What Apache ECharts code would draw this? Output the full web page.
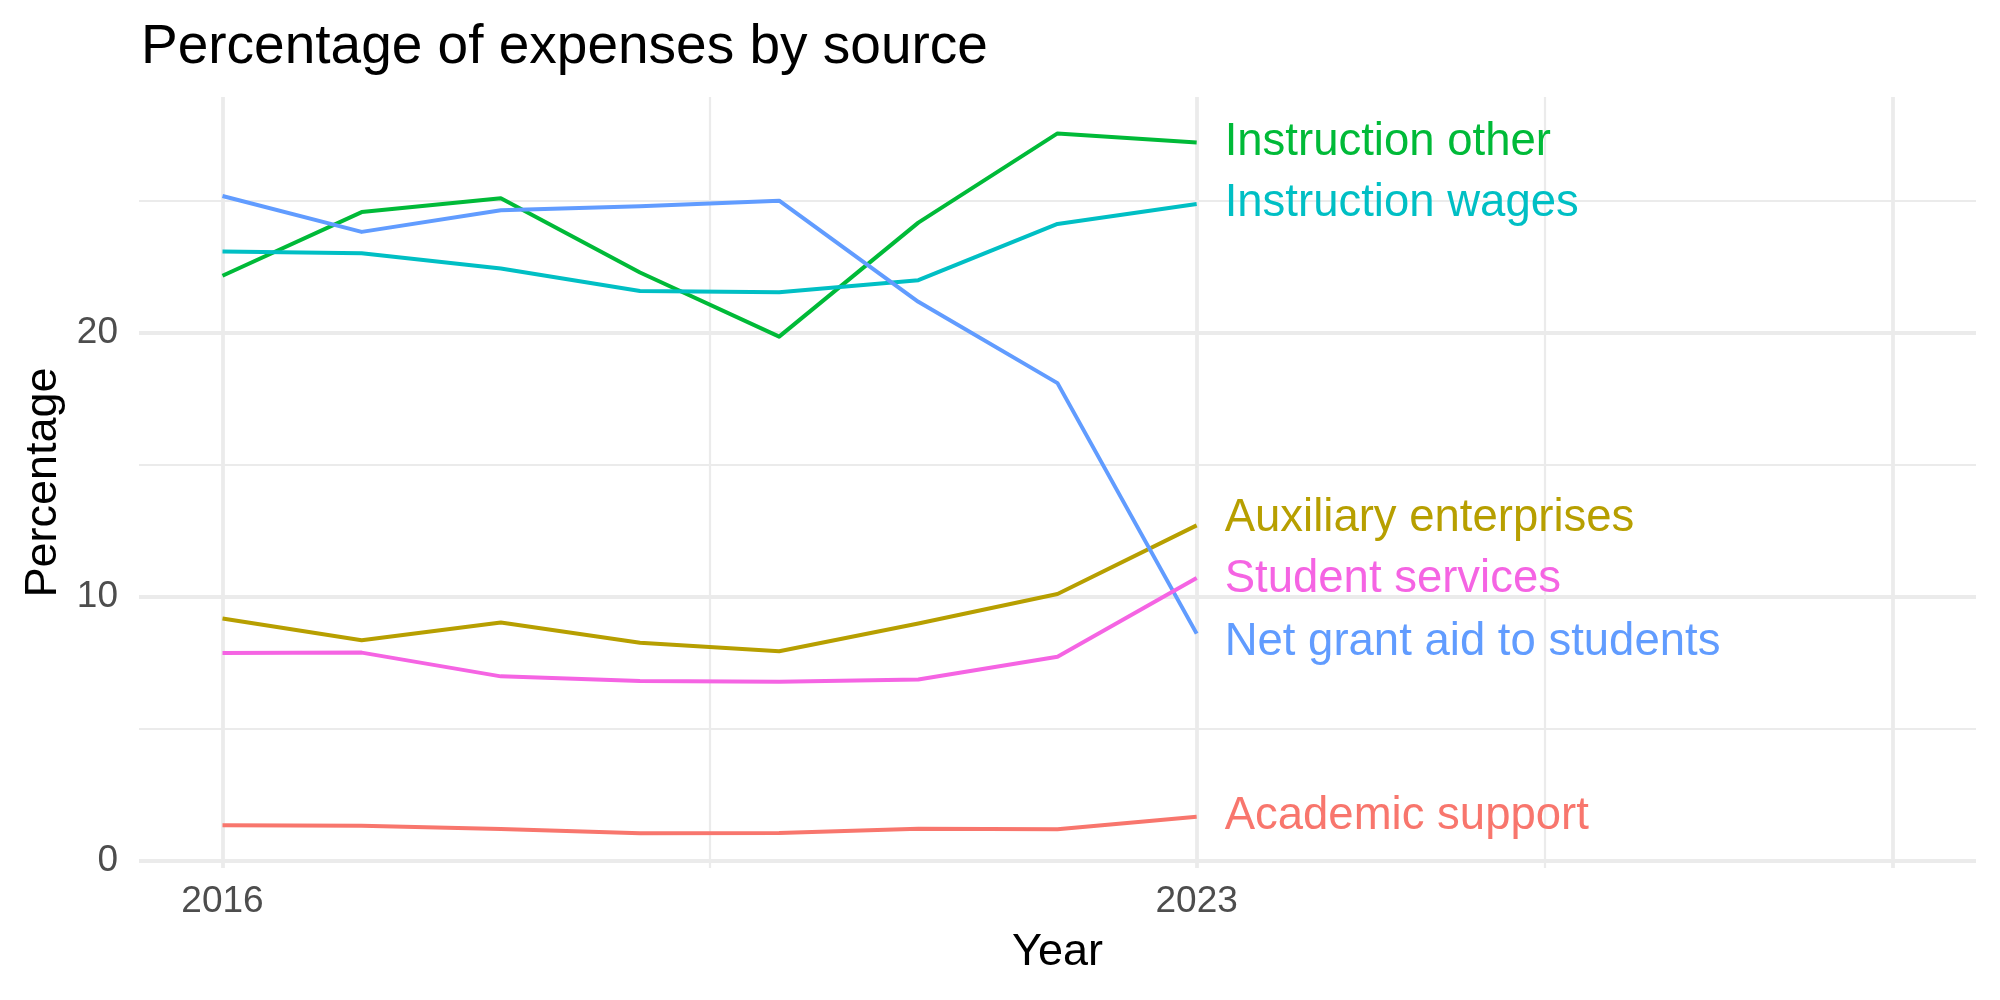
<!DOCTYPE html>
<html>
<head>
<meta charset="utf-8">
<script src="https://cdn.jsdelivr.net/npm/echarts@6/dist/echarts.min.js"></script>
<style>
  html, body { margin: 0; padding: 0; background: #fff; }
  #chart { width: 2000px; height: 1000px; }
</style>
</head>
<body>
<div id="chart"></div>
<script>
// data
const years = [2016, 2017, 2018, 2019, 2020, 2021, 2022, 2023];
const academicSupport = [1.35, 1.33, 1.21, 1.05, 1.06, 1.22, 1.20, 1.67];
const auxiliaryEnterprises = [9.18, 8.36, 9.03, 8.26, 7.94, 8.99, 10.11, 12.71];
const instructionOther = [22.17, 24.58, 25.10, 22.29, 19.86, 24.18, 27.56, 27.22];
const instructionWages = [23.09, 23.02, 22.44, 21.59, 21.54, 22.00, 24.13, 24.89];
const netGrantAid = [25.19, 23.83, 24.65, 24.80, 25.01, 21.18, 18.10, 8.61];
const studentServices = [7.88, 7.89, 6.99, 6.81, 6.79, 6.87, 7.73, 10.72];

const xTickLabels = [2016, 2023];
const yTickLabels = [0, 10, 20];
const xMajorGrid = [2016, 2023, 2028];
const xMinorGrid = [2019.5, 2025.5];
const yMajorGrid = [0, 10, 20];
const yMinorGrid = [5, 15, 25];

const font = 'Liberation Sans, Arial, Helvetica, sans-serif';
const gridColor = '#EBEBEB';

let myChart = echarts.init(document.getElementById('chart'));

function pairs(vals) {
  return years.map((y, i) => [y, vals[i]]);
}

function lineSeries(name, vals, color, dy) {
  return {
    name: name,
    type: 'line',
    z: 3,
    data: pairs(vals),
    symbol: 'none',
    color: color,
    lineStyle: { width: 4, color: color, join: 'round' },
    endLabel: {
      show: true,
      formatter: '{a}',
      color: color,
      fontSize: 45.5,
      fontFamily: font,
      distance: 28,
      offset: [0, dy || 0]
    }
  };
}

// gridlines drawn as markLines so they can sit at uneven positions
function gridSeries(xs, ys, width) {
  let items = []
  xs.forEach(v => items.push({ xAxis: v }))
  ys.forEach(v => items.push({ yAxis: v }))
  return {
    type: 'line',
    z: 1,
    data: [],
    silent: true,
    markLine: {
      z: 1,
      silent: true,
      animation: false,
      symbol: ['none', 'none'],
      label: { show: false },
      lineStyle: { color: gridColor, type: 'solid', width: width },
      emphasis: { disabled: true },
      data: items
    }
  };
}

let option = {
  animation: false,
  backgroundColor: '#fff',
  title: {
    text: 'Percentage of expenses by source',
    left: 136,
    top: 15,
    textStyle: { fontSize: 55, fontWeight: 'normal', color: '#000', fontFamily: font }
  },
  grid: { left: 139, right: 24, top: 97, bottom: 132 },
  xAxis: {
    type: 'value',
    min: 2015.4,
    max: 2028.6,
    name: 'Year',
    nameLocation: 'middle',
    nameGap: 62,
    nameTextStyle: { fontSize: 45, color: '#000', fontFamily: font },
    axisLine: { show: false },
    axisTick: { show: false },
    splitLine: { show: false },
    axisLabel: {
      customValues: xTickLabels,
      formatter: v => String(v),
      fontSize: 37,
      color: '#4D4D4D',
      fontFamily: font,
      margin: 15
    }
  },
  yAxis: {
    type: 'value',
    min: -0.27,
    max: 28.94,
    name: 'Percentage',
    nameLocation: 'middle',
    nameGap: 72,
    nameRotate: 90,
    nameTextStyle: { fontSize: 45, color: '#000', fontFamily: font },
    axisLine: { show: false },
    axisTick: { show: false },
    splitLine: { show: false },
    axisLabel: {
      customValues: yTickLabels,
      formatter: v => String(v),
      fontSize: 37,
      color: '#4D4D4D',
      fontFamily: font,
      margin: 21
    }
  },
  series: [
    gridSeries(xMinorGrid, yMinorGrid, 2.2),
    gridSeries(xMajorGrid, yMajorGrid, 3.8),
    lineSeries('Academic support', academicSupport, '#F8766D'),
    lineSeries('Auxiliary enterprises', auxiliaryEnterprises, '#B79F00', -7),
    lineSeries('Instruction other', instructionOther, '#00BA38'),
    lineSeries('Instruction wages', instructionWages, '#00BFC4'),
    lineSeries('Net grant aid to students', netGrantAid, '#619CFF', 9),
    lineSeries('Student services', studentServices, '#F564E3', 2)
  ]
};

myChart.setOption(option)
</script>
</body>
</html>
